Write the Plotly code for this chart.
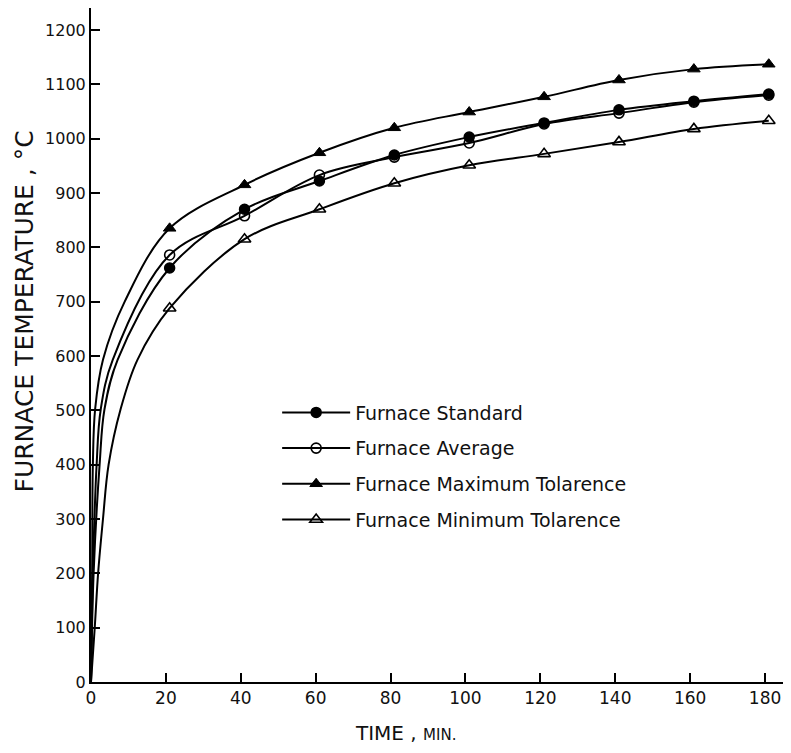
import plotly.graph_objects as go

# ---- data ----
time_min = [21, 41, 61, 81, 101, 121, 141, 161, 181]

furnace_standard = [762, 870, 922, 970, 1003, 1029, 1053, 1069, 1082]
furnace_average = [786, 858, 933, 966, 992, 1027, 1047, 1067, 1080]
furnace_max_tol = [835, 915, 974, 1020, 1049, 1077, 1108, 1128, 1137]
furnace_min_tol = [688, 815, 870, 918, 951, 972, 994, 1018, 1033]

rise_time_standard = [0, 0.7, 2.3, 3.6, 7.1]
rise_temp_standard = [0, 200, 400, 502, 593]
rise_time_average = [0, 0.5, 1.5, 2.6, 5.8]
rise_temp_average = [0, 200, 400, 502, 593]
rise_time_max = [0, 0.3, 0.5, 1.1, 3.2, 9.0]
rise_temp_max = [0, 200, 400, 502, 593, 700]
rise_time_min = [0, 1.0, 1.9, 3.2, 4.7, 7.9, 12.4]
rise_temp_min = [0, 100, 200, 300, 400, 502, 593]

x_ticks = [0, 20, 40, 60, 80, 100, 120, 140, 160, 180]
y_ticks = [0, 100, 200, 300, 400, 500, 600, 700, 800, 900, 1000, 1100, 1200]

series = [
    ("Furnace Standard", furnace_standard, rise_time_standard, rise_temp_standard,
     dict(symbol="circle", size=10, color="black", line=dict(color="black", width=1.5))),
    ("Furnace Average", furnace_average, rise_time_average, rise_temp_average,
     dict(symbol="circle-open", size=10, color="black", line=dict(color="black", width=1.6))),
    ("Furnace Maximum Tolarence", furnace_max_tol, rise_time_max, rise_temp_max,
     dict(symbol="triangle-up", size=11, color="black", line=dict(color="black", width=1))),
    ("Furnace Minimum Tolarence", furnace_min_tol, rise_time_min, rise_temp_min,
     dict(symbol="triangle-up-open", size=11, color="black", line=dict(color="black", width=1.6))),
]

fig = go.Figure()
for i, (name, vals, rt, ry, mk) in enumerate(series):
    fig.add_trace(go.Scatter(
        x=rt + time_min, y=ry + vals, mode="lines",
        line=dict(color="black", width=2, shape="spline", smoothing=1.0),
        showlegend=False, hoverinfo="skip", legendgroup=f"g{i}"))
    fig.add_trace(go.Scatter(
        x=time_min, y=vals, mode="markers", marker=mk,
        showlegend=False, name=name, legendgroup=f"g{i}"))
    # legend entry
    fig.add_trace(go.Scatter(
        x=[None], y=[None], mode="lines+markers", name=name,
        legendgroup=f"g{i}",
        line=dict(color="black", width=2), marker=mk))

font_family = "DejaVu Sans"

fig.update_layout(
    width=775, height=737,
    margin=dict(l=83, r=0, t=0, b=63, autoexpand=False),
    paper_bgcolor="white", plot_bgcolor="white",
    font=dict(family=font_family, color="#111", size=16),
    showlegend=True,
    legend=dict(x=0.269, y=0.428, xanchor="left", yanchor="top",
                bgcolor="rgba(0,0,0,0)", font=dict(size=19, family=font_family),
                itemwidth=68, tracegroupgap=8, traceorder="grouped"),
    xaxis=dict(range=[0, 184.8], tickvals=x_ticks, ticks="inside", ticklen=9,
               tickwidth=2, tickcolor="black", showline=True, linecolor="black",
               linewidth=2, showgrid=False, zeroline=False,
               tickfont=dict(size=17, family=font_family, color="#111")),
    yaxis=dict(range=[0, 1240.5], tickvals=y_ticks, ticks="inside", ticklen=9,
               tickwidth=2, tickcolor="black", showline=True, linecolor="black",
               linewidth=2, showgrid=False, zeroline=False,
               tickfont=dict(size=16, family=font_family, color="#111")),
    annotations=[
        dict(text="FURNACE TEMPERATURE , °C", textangle=-90, showarrow=False,
             xref="paper", yref="paper", x=-0.1199, y=0.549, xanchor="left",
             yanchor="middle", font=dict(size=25, family=font_family, color="#111")),
        dict(text="TIME , <span style='font-size:15px'>MIN.</span>", showarrow=False,
             xref="paper", yref="paper", x=0.455, y=-0.0757, xanchor="center",
             yanchor="middle", font=dict(size=20, family=font_family, color="#111")),
    ],
)

fig.write_html("out.html")
